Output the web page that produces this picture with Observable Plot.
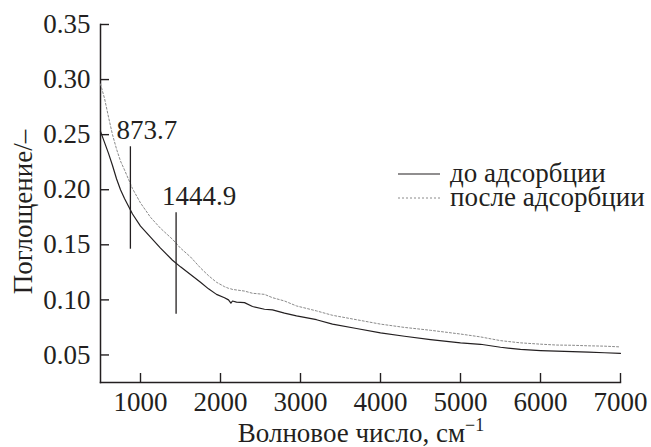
<!DOCTYPE html>
<html>
<head>
<meta charset="utf-8">
<script src="https://cdn.jsdelivr.net/npm/d3@7"></script>
<script src="https://cdn.jsdelivr.net/npm/@observablehq/plot@0.6"></script>
<style>
  body { margin: 0; background: #fff; }
  #chart { position: relative; width: 651px; height: 447px; color: #231f20; }
  #chart svg.plot { position: absolute; left: 0; top: 0; }
  .title { position: absolute; font-size: 27px; line-height: 27px; white-space: nowrap; }
  .xtitle { left: 361px; top: 420px; transform: translateX(-50%); }
  .xtitle sup { font-size: 18px; line-height: 0; vertical-align: 11px; }
  .ytitle { left: 23px; top: 212px; transform: translate(-50%, -50%) rotate(-90deg); }
  .legend-row { position: absolute; left: 398px; height: 22px; font-size: 27px; line-height: 22px; white-space: nowrap; }
  .legend-row svg { position: absolute; left: 0; top: 0; }
  .legend-row span { position: absolute; left: 52px; top: 0; }
</style>
</head>
<body>
<div id="chart"></div>
<script>
// IR absorption spectrum of the sorbent before and after adsorption
const wavenumber = [500, 550, 600, 650, 700, 750, 800, 900, 1000, 1125, 1250, 1400, 1500, 1625, 1750, 1850, 1950, 2050, 2100, 2130, 2150, 2200, 2300, 2400, 2550, 2650, 2800, 2950, 3200, 3400, 3700, 4000, 4300, 4625, 5000, 5250, 5500, 5750, 6000, 6200, 6400, 6600, 6800, 7000];
const beforeAdsorption = [0.253, 0.243, 0.233, 0.222, 0.210, 0.200, 0.192, 0.178, 0.167, 0.157, 0.147, 0.136, 0.130, 0.123, 0.116, 0.110, 0.105, 0.102, 0.100, 0.097, 0.099, 0.098, 0.0975, 0.094, 0.0915, 0.091, 0.088, 0.0855, 0.082, 0.078, 0.074, 0.070, 0.067, 0.064, 0.061, 0.0597, 0.057, 0.055, 0.054, 0.0535, 0.053, 0.0525, 0.052, 0.0515];
const afterAdsorption = [0.296, 0.283, 0.266, 0.250, 0.237, 0.226, 0.218, 0.201, 0.188, 0.175, 0.165, 0.155, 0.147, 0.139, 0.129, 0.122, 0.116, 0.112, 0.1105, 0.110, 0.1095, 0.109, 0.108, 0.106, 0.105, 0.102, 0.099, 0.0945, 0.090, 0.086, 0.082, 0.078, 0.075, 0.0724, 0.069, 0.0664, 0.063, 0.061, 0.0598, 0.059, 0.0588, 0.0583, 0.058, 0.0573];

// marked bands: wavenumber, label, rule extent (absorbance)
const bandPositions = [873.7, 1444.9];
const bandLabels = ["873.7", "1444.9"];
const bandTop = [0.239, 0.179];
const bandBottom = [0.146, 0.087];

const xTicks = [1000, 2000, 3000, 4000, 5000, 6000, 7000];
const yTicks = [0.05, 0.10, 0.15, 0.20, 0.25, 0.30, 0.35];

const seriesNames = ["до адсорбции", "после адсорбции"];
const yTitle = "Поглощение/–";
const xTitle = "Волновое число, см";
const xTitleUnitPower = "−1";

const before = wavenumber.map((x, i) => ({x, y: beforeAdsorption[i]}));
const after = wavenumber.map((x, i) => ({x, y: afterAdsorption[i]}));
const bands = bandPositions.map((x, i) => ({x, label: bandLabels[i], top: bandTop[i], bottom: bandBottom[i]}));

const ink = "#231f20";
const serif = "Liberation Serif";

// apply the serif face on an element, both as attribute and as important style
function useSerif(el) {
  el.setAttribute("font-family", serif);
  el.style.setProperty("font-family", `'${serif}', 'Times New Roman', serif`, "important");
}

const chart = Plot.plot({
  width: 651,
  height: 447,
  marginLeft: 100,
  marginRight: 31,
  marginTop: 24,
  marginBottom: 65,
  style: {fontSize: "27px", color: ink, background: "transparent"},
  x: {domain: [500, 7000]},
  y: {domain: [0.025, 0.35]},
  marks: [
    Plot.axisX({ticks: xTicks, tickSize: 0, tickPadding: 9, tickFormat: d => String(d), label: null}),
    Plot.axisX({ticks: xTicks, tickSize: 9, dy: -9, tickFormat: () => "", label: null, strokeWidth: 1.4}),
    Plot.axisY({ticks: yTicks, tickSize: 0, tickPadding: 10, tickFormat: d3.format(".2f"), label: null}),
    Plot.axisY({ticks: yTicks, tickSize: 9, dx: 9, tickFormat: () => "", label: null, strokeWidth: 1.4}),
    Plot.frame({anchor: "left", stroke: ink, strokeWidth: 1.5}),
    Plot.frame({anchor: "bottom", stroke: ink, strokeWidth: 1.5}),
    Plot.line(after, {x: "x", y: "y", stroke: "#8a8a8a", strokeWidth: 1, strokeDasharray: "2,2"}),
    Plot.line(before, {x: "x", y: "y", stroke: ink, strokeWidth: 1.2}),
    Plot.ruleX(bands, {x: "x", y1: "top", y2: "bottom", stroke: ink, strokeWidth: 1.3}),
    Plot.text(bands, {x: "x", y: "top", text: "label", textAnchor: "start", lineAnchor: "bottom", dx: -14, dy: -8, fill: ink, fontSize: 27})
  ]
});

const root = document.getElementById("chart");
useSerif(root);
useSerif(chart);
chart.querySelectorAll("g, text, tspan").forEach(useSerif);
root.appendChild(chart);

const xt = document.createElement("div");
xt.className = "title xtitle";
xt.textContent = xTitle;
const sup = document.createElement("sup");
sup.textContent = xTitleUnitPower;
xt.appendChild(sup);
useSerif(xt);
root.appendChild(xt);

const yt = document.createElement("div");
yt.className = "title ytitle";
yt.textContent = yTitle;
useSerif(yt);
root.appendChild(yt);

// legend
const legendStyles = [
  {stroke: ink, width: 1.2, dash: null, top: 162},
  {stroke: "#8a8a8a", width: 1, dash: "2,2", top: 186}
];
seriesNames.forEach((name, i) => {
  const s = legendStyles[i];
  const row = document.createElement("div");
  row.className = "legend-row";
  row.style.top = s.top + "px";
  row.innerHTML = `<svg width="44" height="22"><line x1="0" x2="42" y1="12" y2="12" stroke="${s.stroke}" stroke-width="${s.width}" ${s.dash ? `stroke-dasharray="${s.dash}"` : ""}/></svg><span></span>`;
  const label = row.querySelector("span");
  label.textContent = name;
  useSerif(label);
  root.appendChild(row);
});
</script>
</body>
</html>
